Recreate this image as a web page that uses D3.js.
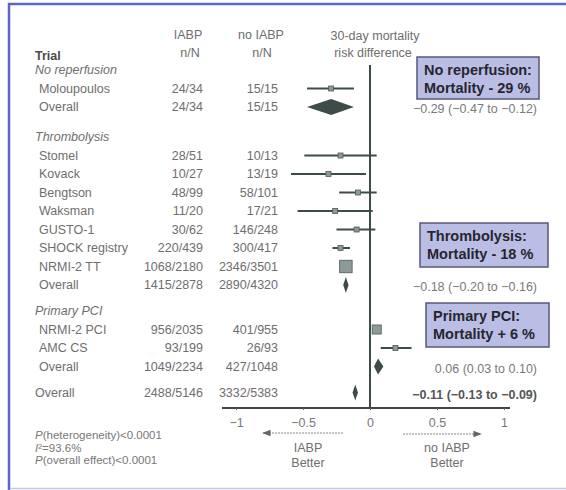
<!DOCTYPE html>
<html>
<head>
<meta charset="utf-8">
<script src="https://cdn.jsdelivr.net/npm/d3@7"></script>
<style>
    body { margin: 0; background: #fff; }
    svg { display: block; font-family: "Liberation Sans", Arial, sans-serif; }
</style>
</head>
<body>
<svg id="chart" width="566" height="490"></svg>
<script>
// ---- data ----
const groupNames = ['No reperfusion', 'Thrombolysis', 'Primary PCI'];

const trialNames = ['Moloupoulos', 'Stomel', 'Kovack', 'Bengtson', 'Waksman', 'GUSTO-1',
    'SHOCK registry', 'NRMI-2 TT', 'NRMI-2 PCI', 'AMC CS'];
const trialGroup = [0, 1, 1, 1, 1, 1, 1, 1, 2, 2];
const trialIabp = ['24/34', '28/51', '10/27', '48/99', '11/20', '30/62', '220/439', '1068/2180', '956/2035', '93/199'];
const trialNoIabp = ['15/15', '10/13', '13/19', '58/101', '17/21', '146/248', '300/417', '2346/3501', '401/955', '26/93'];
const trialRd = [-0.29, -0.22, -0.31, -0.09, -0.26, -0.10, -0.22, -0.18, 0.05, 0.19];
const trialLo = [-0.47, -0.49, -0.59, -0.23, -0.54, -0.25, -0.28, -0.21, 0.02, 0.08];
const trialHi = [-0.12, 0.05, -0.03, 0.05, 0.02, 0.04, -0.15, -0.15, 0.08, 0.31];
const trialPatients = [49, 64, 46, 200, 41, 310, 856, 5681, 2990, 292];

const overallIabp = ['24/34', '1415/2878', '1049/2234'];
const overallNoIabp = ['15/15', '2890/4320', '427/1048'];
const overallRd = [-0.29, -0.18, 0.06];
const overallLo = [-0.47, -0.20, 0.03];
const overallHi = [-0.12, -0.16, 0.10];

const totalIabp = '2488/5146';
const totalNoIabp = '3332/5383';
const totalRd = -0.11, totalLo = -0.13, totalHi = -0.09;

const tickValues = [-1, -0.5, 0, 0.5, 1];

const boxTitles = ['No reperfusion:', 'Thrombolysis:', 'Primary PCI:'];
const boxChanges = ['Mortality - 29 %', 'Mortality - 18 %', 'Mortality + 6 %'];

const statLines = ['P(heterogeneity)<0.0001', 'I\u00b2=93.6%', 'P(overall effect)<0.0001'];

// ---- layout ----
const svg = d3.select('#chart');
const textGray = '#6e6e6e';
const ink = '#3d4b49';

// frame of the slide
svg.append('rect').attr('x', 0).attr('y', 0).attr('width', 566).attr('height', 490).attr('fill', '#fff');
svg.append('line').attr('x1', 8).attr('x2', 566).attr('y1', 4).attr('y2', 4)
    .attr('stroke', '#5b67c8').attr('stroke-width', 2.5);
svg.append('line').attr('x1', 9).attr('x2', 9).attr('y1', 3).attr('y2', 490)
    .attr('stroke', '#5b67c8').attr('stroke-width', 2.5);
svg.append('line').attr('x1', 10).attr('x2', 566).attr('y1', 488.5).attr('y2', 488.5)
    .attr('stroke', '#c3c6ee').attr('stroke-width', 1.5);

// build rows (y positions) from the group structure
const rowStep = 18.5;
const groupGap = [0, 30, 26];
const rows = [];
let y = 70;
groupNames.forEach((g, gi) => {
    y += groupGap[gi];
    rows.push({ kind: 'group', label: g, y: y });
    trialNames.forEach((t, i) => {
        if (trialGroup[i] !== gi) return;
        y += rowStep;
        rows.push({ kind: 'trial', label: t, iabp: trialIabp[i], no: trialNoIabp[i],
            rd: trialRd[i], lo: trialLo[i], hi: trialHi[i], n: trialPatients[i], y: y });
    });
    y += rowStep;
    rows.push({ kind: 'overall', label: 'Overall', iabp: overallIabp[gi], no: overallNoIabp[gi],
        rd: overallRd[gi], lo: overallLo[gi], hi: overallHi[gi], y: y });
});
y += 26;
rows.push({ kind: 'total', label: 'Overall', iabp: totalIabp, no: totalNoIabp,
    rd: totalRd, lo: totalLo, hi: totalHi, y: y });

const axisY = 408;
const x = d3.scaleLinear().domain([-1, 1]).range([236, 504]);
const sizeScale = d3.scaleSqrt().domain([0, d3.max(trialPatients)]).range([0, 12.5]);
const fmt = d3.format('.2f');

// headers
const header = svg.append('g').attr('fill', textGray).attr('font-size', 12.5).attr('text-anchor', 'middle');
header.append('text').attr('x', 188).attr('y', 39).text('IABP');
header.append('text').attr('x', 261).attr('y', 39).text('no IABP');
header.append('text').attr('x', 375).attr('y', 40).text('30-day mortality');
header.append('text').attr('x', 190).attr('y', 57).text('n/N');
header.append('text').attr('x', 262).attr('y', 57).text('n/N');
header.append('text').attr('x', 373).attr('y', 57).text('risk difference');
svg.append('text').attr('x', 35).attr('y', 60).attr('font-size', 12.5)
    .attr('font-weight', 'bold').attr('fill', '#4a4a4a').text('Trial');

// table text
const table = svg.append('g').attr('font-size', 12.5).attr('fill', textGray);
rows.forEach(r => {
    const t = table.append('text')
        .attr('x', r.kind === 'trial' || r.kind === 'overall' ? 39 : 35)
        .attr('y', r.y).attr('dy', '0.35em').text(r.label);
    if (r.kind === 'group') { t.attr('font-style', 'italic'); return; }
    table.append('text').attr('x', 203).attr('y', r.y).attr('dy', '0.35em')
        .attr('text-anchor', 'end').text(r.iabp);
    table.append('text').attr('x', 278).attr('y', r.y).attr('dy', '0.35em')
        .attr('text-anchor', 'end').text(r.no);
});

// zero line
svg.append('line').attr('x1', x(0)).attr('x2', x(0)).attr('y1', 65).attr('y2', axisY)
    .attr('stroke', ink).attr('stroke-width', 2);

// axis
const axis = d3.axisBottom(x).tickValues(tickValues).tickSize(2).tickPadding(8)
    .tickFormat(d3.format('~g'));
const axisG = svg.append('g').attr('transform', `translate(0,${axisY})`).call(axis);
axisG.select('.domain').attr('d', `M222,0H510`).attr('stroke', '#444').attr('stroke-width', 2);
axisG.selectAll('.tick line').attr('stroke', '#666');
axisG.selectAll('.tick text').attr('fill', '#777').attr('font-size', 12.5)
    .attr('font-family', '"Liberation Sans", Arial, sans-serif');

// trial estimates
const marks = svg.append('g');
rows.filter(r => r.kind === 'trial').forEach(r => {
    marks.append('line').attr('x1', x(r.lo)).attr('x2', x(r.hi)).attr('y1', r.y).attr('y2', r.y)
        .attr('stroke', ink).attr('stroke-width', 2);
    const s = Math.max(5, sizeScale(r.n));
    marks.append('rect').attr('x', x(r.rd) - s / 2).attr('y', r.y - s / 2)
        .attr('width', s).attr('height', s)
        .attr('fill', '#8d9a97').attr('stroke', '#4d5a58').attr('stroke-width', 0.8);
});

// pooled diamonds + CI text
rows.filter(r => r.kind === 'overall' || r.kind === 'total').forEach(r => {
    const h = 8;
    marks.append('path')
        .attr('d', `M${x(r.lo)},${r.y}L${x(r.rd)},${r.y - h}L${x(r.hi)},${r.y}L${x(r.rd)},${r.y + h}Z`)
        .attr('fill', ink);
    svg.append('text').attr('x', 537).attr('y', r.y + 2).attr('dy', '0.35em')
        .attr('text-anchor', 'end').attr('font-size', 12.5)
        .attr('fill', r.kind === 'total' ? '#555' : '#7a7a7a')
        .attr('font-weight', r.kind === 'total' ? 'bold' : 'normal')
        .text(`${fmt(r.rd)} (${fmt(r.lo)} to ${fmt(r.hi)})`);
});

// annotation boxes
const boxPos = [[417, 57], [420, 223], [426, 303]];
const boxSize = [[122, 42], [128, 44], [123, 44]];
boxTitles.forEach((t, i) => {
    const g = svg.append('g').attr('transform', `translate(${boxPos[i][0]},${boxPos[i][1]})`);
    g.append('rect').attr('width', boxSize[i][0]).attr('height', boxSize[i][1])
        .attr('fill', '#babee4').attr('stroke', '#55587a').attr('stroke-width', 1.5);
    g.append('text').attr('x', 7).attr('y', 18).attr('font-size', 14.5).attr('font-weight', 'bold')
        .attr('fill', '#26262e').text(t);
    g.append('text').attr('x', 7).attr('y', 36).attr('font-size', 14.5).attr('font-weight', 'bold')
        .attr('fill', '#26262e').text(boxChanges[i]);
});

// direction arrows and labels
svg.append('defs').append('marker').attr('id', 'head').attr('viewBox', '0 0 10 10')
    .attr('refX', 9).attr('refY', 5).attr('markerWidth', 7).attr('markerHeight', 7)
    .attr('orient', 'auto-start-reverse')
    .append('path').attr('d', 'M0,1L10,5L0,9Z').attr('fill', '#666');
svg.append('line').attr('x1', 343).attr('x2', 263).attr('y1', 433).attr('y2', 433)
    .attr('stroke', '#888').attr('stroke-width', 1.2).attr('stroke-dasharray', '2,1')
    .attr('marker-end', 'url(#head)');
svg.append('line').attr('x1', 403).attr('x2', 481).attr('y1', 434).attr('y2', 434)
    .attr('stroke', '#888').attr('stroke-width', 1.2).attr('stroke-dasharray', '2,1')
    .attr('marker-end', 'url(#head)');
const dir = svg.append('g').attr('font-size', 12.5).attr('fill', textGray).attr('text-anchor', 'middle');
dir.append('text').attr('x', 308).attr('y', 452).text('IABP');
dir.append('text').attr('x', 308).attr('y', 467).text('Better');
dir.append('text').attr('x', 447).attr('y', 452).text('no IABP');
dir.append('text').attr('x', 447).attr('y', 467).text('Better');

// test statistics
const stats = svg.append('g').attr('font-size', 11.5).attr('fill', '#777');
statLines.forEach((s, i) => {
    const t = stats.append('text').attr('x', 35).attr('y', 439 + i * 12.5);
    if (s[0] === 'P') {
        t.append('tspan').attr('font-style', 'italic').text('P');
        t.append('tspan').text(s.slice(1));
    } else {
        t.append('tspan').attr('font-style', 'italic').text('I');
        t.append('tspan').text(s.slice(1));
    }
});
</script>
</body>
</html>
